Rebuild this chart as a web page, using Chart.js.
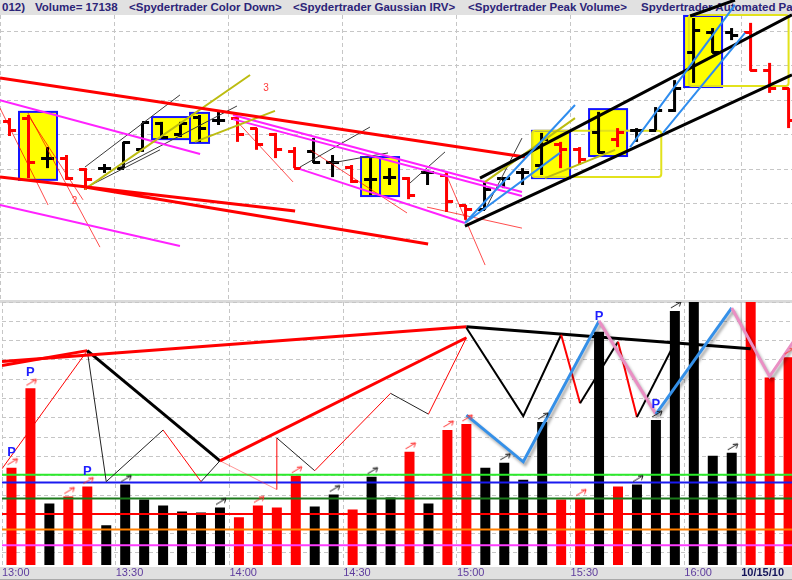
<!DOCTYPE html>
<html>
<head>
<meta charset="utf-8">
<title>ES 5 min - Spydertrader</title>
<script src="https://cdn.jsdelivr.net/npm/chart.js@4.4.0/dist/chart.umd.min.js"></script>
<style>
	html, body { margin: 0; padding: 0; background: #fff; overflow: hidden; }
	#wrap { position: relative; width: 792px; height: 580px; }
	#hdr { position: absolute; left: 0; top: 0; width: 792px; height: 15px; background: #e1e1e1; overflow: hidden;
		font: bold 11.5px "Liberation Sans", Arial, sans-serif; color: #2c2478; }
	#hdr span { position: absolute; top: 1px; white-space: pre; }
	#sep { position: absolute; left: 0; top: 300px; width: 792px; height: 3px; background: #dadada; }
	#band { position: absolute; left: 0; top: 567px; width: 792px; height: 12px; background: #e0e0e0; border-bottom: 1px solid #a9a9a9; }
	canvas { position: absolute; left: 0; }
	#priceCanvas { top: 0; }
	#volCanvas { top: 300px; }
</style>
</head>
<body>
<div id="wrap">
	<div id="hdr">
		<span style="left:2px">012)</span>
		<span style="left:35px">Volume= 17138</span>
		<span style="left:129px">&lt;Spydertrader Color Down&gt;</span>
		<span style="left:293px">&lt;Spydertrader Gaussian IRV&gt;</span>
		<span style="left:468px">&lt;Spydertrader Peak Volume&gt;</span>
		<span style="left:641px">Spydertrader Automated Pa</span>
	</div>
	<div id="sep"></div>
	<div id="band"></div>
	<canvas id="priceCanvas" width="792" height="300" style="width:792px;height:300px"></canvas>
	<canvas id="volCanvas" width="792" height="280" style="width:792px;height:280px"></canvas>
</div>
<script>
// time axis (bar index of each grid line) and its labels
var timeTicks = [-0.5, 5.5, 11.5, 17.5, 23.5, 29.5, 35.5, 38.5];
var timeLabels = ["13:00", "13:30", "14:00", "14:30", "15:00", "15:30", "16:00", "10/15/10"];

// 5 minute bars
var openP = [1169.38, 1169.49, 1168.33, 1168.33, 1167.99, 1168.04, 1168.04, 1168.57, 1169.32, 1169.00,
	1169.52, 1169.43, 1169.49, 1169.20, 1169.00, 1168.51, 1168.51, 1168.19, 1168.07, 1167.70,
	1167.78, 1167.75, 1167.90, 1167.84, 1166.97, 1166.83, 1167.75, 1167.90, 1168.13, 1168.71,
	1168.57, 1169.06, 1168.86, 1169.14, 1169.14, 1169.72, 1171.38, 1171.96, 1171.96, 1171.96,
	1170.86, 1170.36];
var highP = [1169.49, 1169.58, 1168.65, 1168.42, 1168.04, 1168.16, 1168.80, 1169.35, 1169.38, 1169.38,
	1169.58, 1169.67, 1169.52, 1169.20, 1169.06, 1168.65, 1168.91, 1168.42, 1168.13, 1168.33,
	1168.04, 1167.78, 1167.99, 1167.90, 1166.97, 1167.67, 1167.78, 1168.04, 1169.06, 1168.80,
	1168.65, 1169.67, 1169.20, 1169.20, 1169.81, 1170.59, 1172.39, 1172.10, 1172.10, 1172.25,
	1171.09, 1170.36];
var lowP = [1168.97, 1167.75, 1168.04, 1167.70, 1167.41, 1167.90, 1168.04, 1168.51, 1168.94, 1168.94,
	1168.80, 1169.29, 1168.80, 1168.57, 1168.33, 1168.04, 1168.19, 1167.78, 1167.61, 1167.26,
	1167.55, 1167.14, 1167.55, 1166.77, 1166.54, 1166.83, 1167.46, 1167.55, 1167.84, 1168.04,
	1168.13, 1168.48, 1168.65, 1168.80, 1169.14, 1169.67, 1170.51, 1171.38, 1171.75, 1170.86,
	1170.22, 1169.20];
var closeP = [1169.14, 1168.19, 1168.33, 1167.75, 1167.70, 1168.04, 1168.77, 1169.35, 1168.94, 1169.32,
	1169.20, 1169.43, 1169.00, 1168.71, 1168.57, 1168.04, 1168.19, 1168.19, 1167.64, 1167.70,
	1167.78, 1167.26, 1167.90, 1167.06, 1166.83, 1167.41, 1167.75, 1167.90, 1168.86, 1168.57,
	1168.28, 1168.48, 1169.06, 1169.14, 1169.72, 1170.36, 1172.04, 1171.38, 1171.87, 1170.86,
	1170.36, 1169.43];
// Spydertrader Color Down: 1 = down bar
var colorDown = [1, 1, 0, 1, 1, 0, 0, 0, 0, 0, 0, 0, 1, 1, 1, 1, 0, 0, 1, 0, 0, 1, 0, 1, 1, 0, 0, 0, 0, 1,
	1, 0, 1, 0, 0, 0, 0, 0, 0, 1, 1, 1];
var volume = [11413, 15526, 9562, 9922, 10436, 8430, 10539, 9767, 9459, 9150,
	9099, 9356, 8842, 9459, 9356, 11001, 9407, 10025, 9253, 10950,
	9870, 12236, 9562, 13367, 13675, 11413, 11670, 10796, 13778, 9767,
	9819, 18457, 10436, 10539, 13881, 19537, 21200, 12030, 12184, 20900,
	16092, 17138];

// volume bars carrying an arrow mark, and peak volume ("P") bars
var arrowBars = [0, 1, 3, 4, 6, 11, 13, 15, 17, 19, 21, 23, 24, 26, 28, 30, 33, 34, 35, 38, 41];
var peakBars = [0, 1, 4, 31, 34];

// boxes on the price pane: bar range and price range
var boxFrom = [0.5, 7.5, 9.5, 18.5, 19.5, 27.5, 30.5, 35.5];
var boxTo = [2.5, 9.5, 10.5, 19.5, 20.5, 29.5, 32.5, 37.5];
var boxHigh = [1169.67, 1169.52, 1169.64, 1168.36, 1168.36, 1169.12, 1169.75, 1172.45];
var boxLow = [1167.70, 1168.88, 1168.77, 1167.23, 1167.23, 1167.75, 1168.39, 1170.39];
var frameFrom = [27.5, 35.75];
var frameTo = [34.3, 41.0];
var frameHigh = [1169.12, 1172.48];
var frameLow = [1167.78, 1170.42];

// trend lines on the price pane, [bar0, price0, bar1, price1]
var redTrend = [[-0.5, 1170.65, 27.13, 1168.36], [-0.5, 1167.78, 15.03, 1166.80], [3.97, 1167.49, 22.03, 1165.84]];
var magentaTrend = [[-0.5, 1170.01, 10.03, 1168.45], [-0.5, 1166.97, 8.97, 1165.78], [11.76, 1169.58, 26.97, 1167.35],
	[11.76, 1169.46, 26.97, 1167.23], [15.29, 1168.01, 23.97, 1166.45]];
var thinRed = [[-0.5, 1169.78, 2.03, 1166.97], [0.97, 1169.64, 4.76, 1165.75], [0.97, 1169.58, 3.87, 1167.12],
	[11.76, 1169.52, 14.92, 1167.64], [22.92, 1167.93, 25.03, 1165.23], [15.82, 1168.57, 20.92, 1166.74],
	[21.97, 1166.91, 26.97, 1166.30]];
var thinBlack = [[3.97, 1168.07, 8.97, 1170.16], [3.97, 1167.46, 7.92, 1168.57], [5.82, 1168.07, 11.97, 1169.84],
	[15.29, 1168.07, 18.97, 1169.23], [16.97, 1168.19, 19.92, 1168.48], [21.08, 1167.61, 22.92, 1168.51],
	[25.03, 1166.83, 26.97, 1168.91]];
var oliveTrend = [[3.97, 1167.43, 12.66, 1170.74], [9.76, 1168.80, 13.97, 1169.70], [25.03, 1167.64, 29.76, 1169.49],
	[28.18, 1167.75, 31.87, 1168.57]];
var blackChannel = [[24.76, 1167.75, 41.18, 1172.48], [23.97, 1166.36, 41.18, 1170.74], [35.82, 1172.45, 38.18, 1172.91]];
var blueTrend = [[23.97, 1166.45, 29.76, 1169.87], [23.97, 1166.45, 28.97, 1168.48], [32.66, 1168.65, 38.18, 1172.77],
	[34.39, 1169.06, 38.71, 1171.96]];
var noteText = ["2", "3"];
var noteBar = [3.42, 13.5];
var notePrice = [1167.07, 1170.36];

// volume pane: zigzags (bar index / volume) and horizontal levels
var thinZigX = [-0.5, 4, 5, 8, 10, 11, 14, 14, 16, 20, 22, 24];
var thinZigV = [11361, 17480, 10693, 13367, 10693, 11773, 10282, 12955, 11259, 15269, 14190, 18149];
var thickZigX = [-0.5, 4, 11, 24];
var thickZigV = [16709, 17480, 11773, 18149];
var longZigX = [-0.5, 24, 39];
var longZigV = [16915, 18714, 17583];
var midZigX = [24, 27, 29, 30, 32, 33, 35];
var midZigV = [18663, 14087, 18303, 14755, 17943, 14035, 17892];
var irvX = [24, 27, 31, 34, 38, 40, 41.5];
var irvV = [14138, 11721, 19023, 14190, 19691, 16144, 18303];
var levels = [11053, 10642, 9819, 9011, 8209, 7402];

var X_MIN = -0.5, X_MAX = 41.18;
var P_MIN = 1164.217, P_MAX = 1172.478;
var V_MIN = 6374, V_MAX = 20000;

var RED = "#ff0000", BLACK = "#000000";
var FONT = '"Liberation Sans", Arial, sans-serif';
Chart.defaults.font.family = FONT;

// segment colours, one per leg of each zigzag
var thinZigCol = [RED, "#222", "#222", RED, "#222", "rgba(255,60,60,0.55)", RED, "#222", RED, "#222", RED];
var thickZigCol = [RED, BLACK, RED];
var longZigCol = [RED, BLACK];
var midZigCol = [BLACK, BLACK, RED, BLACK, RED, BLACK];
var irvCol = ["#3590e8", "#3590e8", "#ea8fc4", "#3590e8", "#ea8fc4", "#ea8fc4"];
var levelCol = ["#2bea2b", "#1a1af0", "#1c7a1c", "#ff0000", "#ff8000", "#ff3cff"];

function segData(list) {
	var out = [];
	list.forEach(function (s) {
		out.push({ x: s[0], y: s[1] }, { x: s[2], y: s[3] }, { x: s[2], y: null });
	});
	return out;
}

function polyData(xs, ys) {
	return xs.map(function (x, k) { return { x: x, y: ys[k] }; });
}

function lineSet(data, color, width, extra) {
	var ds = {
		type: "line", data: data, borderColor: color, borderWidth: width,
		pointRadius: 0, fill: false, spanGaps: false, tension: 0, order: 1,
		clip: { left: 0, top: 15, right: 0, bottom: 0 }
	};
	return Object.assign(ds, extra || {});
}

function tickImg(color, side) {
	var c = document.createElement("canvas");
	c.width = 15;
	c.height = 3;
	var g = c.getContext("2d");
	g.fillStyle = color;
	if (side === "L") g.fillRect(1, 0, 7, 3);
	else g.fillRect(7, 0, 7, 3);
	return c;
}

function arrowImg(color) {
	var c = document.createElement("canvas");
	c.width = 26;
	c.height = 26;
	var g = c.getContext("2d");
	g.strokeStyle = color;
	g.lineWidth = 1;
	g.beginPath();
	g.moveTo(9, 10);
	g.lineTo(19, 4);
	g.moveTo(19, 4);
	g.lineTo(14, 4.5);
	g.moveTo(19, 4);
	g.lineTo(17.5, 8.5);
	g.stroke();
	return c;
}

var tickL = { red: tickImg(RED, "L"), black: tickImg(BLACK, "L") };
var tickR = { red: tickImg(RED, "R"), black: tickImg(BLACK, "R") };
var arrowRed = arrowImg("#ff3030");
var arrowBlack = arrowImg("#1a1a1a");

function timeAxisTicks(axis) {
	axis.ticks = timeTicks.map(function (v) { return { value: v }; });
}

function zeroWidth(axis) {
	axis.width = 0;
}

var boxPlugin = {
	id: "boxes",
	beforeDatasetsDraw: function (chart) {
		var ctx = chart.ctx, x = chart.scales.x, y = chart.scales.y;
		ctx.save();
		boxFrom.forEach(function (b, k) {
			var x0 = x.getPixelForValue(boxFrom[k]), x1 = x.getPixelForValue(boxTo[k]);
			var y0 = y.getPixelForValue(boxHigh[k]), y1 = y.getPixelForValue(boxLow[k]);
			ctx.fillStyle = "#ffff00";
			ctx.fillRect(x0, y0, x1 - x0, y1 - y0);
			ctx.strokeStyle = "#1414ff";
			ctx.lineWidth = 2;
			ctx.strokeRect(x0, y0, x1 - x0, y1 - y0);
		});
		frameFrom.forEach(function (b, k) {
			var x0 = x.getPixelForValue(frameFrom[k]), x1 = x.getPixelForValue(frameTo[k]);
			var y0 = y.getPixelForValue(frameHigh[k]), y1 = y.getPixelForValue(frameLow[k]);
			ctx.strokeStyle = "#e2e21c";
			ctx.lineWidth = 2;
			ctx.beginPath();
			ctx.roundRect(x0, y0, x1 - x0, y1 - y0, 3);
			ctx.stroke();
		});
		ctx.restore();
	},
	afterDatasetsDraw: function (chart) {
		var ctx = chart.ctx, x = chart.scales.x, y = chart.scales.y;
		ctx.save();
		ctx.font = "10px " + FONT;
		ctx.fillStyle = "#ff3a3a";
		ctx.textAlign = "center";
		ctx.textBaseline = "middle";
		noteText.forEach(function (t, k) {
			ctx.fillText(t, x.getPixelForValue(noteBar[k]), y.getPixelForValue(notePrice[k]));
		});
		ctx.restore();
	}
};

var shadowPlugin = {
	id: "lineShadow",
	beforeDatasetDraw: function (chart, args) {
		if (!chart.data.datasets[args.index].shadow) return;
		var ctx = chart.ctx;
		ctx.save();
		ctx.shadowColor = "rgba(0,0,0,0.35)";
		ctx.shadowBlur = 3;
		ctx.shadowOffsetX = 2;
		ctx.shadowOffsetY = 3;
	},
	afterDatasetDraw: function (chart, args) {
		if (chart.data.datasets[args.index].shadow) chart.ctx.restore();
	}
};

var peakPlugin = {
	id: "peaks",
	afterDatasetsDraw: function (chart) {
		var ctx = chart.ctx, x = chart.scales.x, y = chart.scales.y;
		ctx.save();
		ctx.font = "bold 13px " + FONT;
		ctx.fillStyle = "#1e1eff";
		ctx.textAlign = "center";
		ctx.textBaseline = "alphabetic";
		peakBars.forEach(function (i) {
			ctx.fillText("P", x.getPixelForValue(i), y.getPixelForValue(volume[i]) - 12);
		});
		ctx.restore();
	}
};

var gridCol = "#c6c6c6";

// ---------- price pane ----------
var barCol = colorDown.map(function (d) { return d ? RED : BLACK; });
var priceSets = [
	lineSet(segData(blueTrend), "#2f8def", 2),
	lineSet(segData(blackChannel), BLACK, 3),
	lineSet(segData(redTrend), RED, 3),
	lineSet(segData(oliveTrend), "#bcbc10", 2),
	lineSet(segData(magentaTrend), "#ff22ff", 2),
	lineSet(segData(thinBlack), "#3a3a3a", 1),
	lineSet(segData(thinRed), "rgba(255,0,0,0.7)", 1),
	{
		type: "scatter", order: 2,
		data: openP.map(function (p, i) { return { x: i, y: p }; }),
		pointStyle: colorDown.map(function (d) { return d ? tickL.red : tickL.black; }),
		pointRadius: 3
	},
	{
		type: "scatter", order: 2,
		data: closeP.map(function (p, i) { return { x: i, y: p }; }),
		pointStyle: colorDown.map(function (d) { return d ? tickR.red : tickR.black; }),
		pointRadius: 3
	},
	{
		type: "bar", order: 3,
		data: highP.map(function (h, i) { return { x: i, y: [lowP[i], h] }; }),
		backgroundColor: barCol, barThickness: 3, inflateAmount: 0,
		clip: { left: 0, top: 15, right: 0, bottom: 0 }
	}
];

new Chart(document.getElementById("priceCanvas"), {
	type: "bar",
	data: { datasets: priceSets },
	options: {
		responsive: false, animation: false, devicePixelRatio: 1,
		layout: { autoPadding: false, padding: { top: 15, left: 0, right: 0, bottom: 0 } },
		plugins: { legend: { display: false }, tooltip: { enabled: false } },
		scales: {
			x: {
				type: "linear", min: X_MIN, max: X_MAX, offset: false,
				afterBuildTicks: timeAxisTicks,
				grid: { color: gridCol, drawTicks: false, offset: false },
				border: { display: false, dash: [4, 3] },
				ticks: { display: false }
			},
			y: {
				type: "linear", min: P_MIN, max: P_MAX, beginAtZero: false,
				afterBuildTicks: function (axis) {
					var t = [];
					for (var p = 1165; p <= 1172; p++) t.push({ value: p });
					axis.ticks = t;
				},
				afterFit: zeroWidth,
				grid: { color: gridCol, drawTicks: false },
				border: { display: false, dash: [4, 3] },
				ticks: { display: false }
			}
		}
	},
	plugins: [boxPlugin]
});

// ---------- volume pane ----------
var volSets = [
	{
		type: "scatter", order: 0,
		data: arrowBars.map(function (i) { return { x: i, y: volume[i] }; }),
		pointStyle: arrowBars.map(function (i) { return colorDown[i] ? arrowRed : arrowBlack; }),
		pointRadius: 4
	},
	lineSet(polyData(irvX, irvV), "#3590e8", 3, {
		shadow: true, clip: 0,
		segment: { borderColor: function (c) { return irvCol[c.p0DataIndex]; } }
	}),
	lineSet(polyData(midZigX, midZigV), BLACK, 2, {
		clip: 0, segment: { borderColor: function (c) { return midZigCol[c.p0DataIndex]; } }
	}),
	lineSet(polyData(longZigX, longZigV), RED, 3, {
		clip: 0, segment: { borderColor: function (c) { return longZigCol[c.p0DataIndex]; } }
	}),
	lineSet(polyData(thickZigX, thickZigV), RED, 3, {
		clip: 0, segment: { borderColor: function (c) { return thickZigCol[c.p0DataIndex]; } }
	}),
	lineSet(polyData(thinZigX, thinZigV), RED, 1, {
		clip: 0, segment: { borderColor: function (c) { return thinZigCol[c.p0DataIndex]; } }
	})
];
levels.forEach(function (lv, k) {
	volSets.push(lineSet([{ x: X_MIN, y: lv }, { x: X_MAX, y: lv }], levelCol[k], 2, { clip: 0 }));
});
volSets.push(lineSet([{ x: timeTicks[7], y: V_MIN }, { x: timeTicks[7], y: V_MAX }], "#b4b4b4", 1, { clip: 0, order: 2 }));
volSets.push({
	type: "bar", order: 3,
	data: volume.map(function (v, i) { return { x: i, y: v }; }),
	backgroundColor: barCol, barThickness: 10, inflateAmount: 0
});

new Chart(document.getElementById("volCanvas"), {
	type: "bar",
	data: { datasets: volSets },
	options: {
		responsive: false, animation: false, devicePixelRatio: 1,
		layout: { autoPadding: false, padding: { top: 2, left: 0, right: 0, bottom: 0 } },
		plugins: { legend: { display: false }, tooltip: { enabled: false } },
		scales: {
			x: {
				type: "linear", min: X_MIN, max: X_MAX, offset: false,
				afterBuildTicks: timeAxisTicks,
				grid: {
					drawTicks: false, offset: false,
					color: function (c) {
						return c.tick && c.tick.value === timeTicks[7] ? "rgba(0,0,0,0)" : gridCol;
					}
				},
				border: { display: false, dash: [4, 3] },
				ticks: {
					align: "start", autoSkip: false, maxRotation: 0, padding: 2,
					callback: function (v, idx) { return timeLabels[idx]; },
					color: function (c) { return c.index === timeLabels.length - 1 ? "#14145a" : "#5e3c9e"; },
					font: function (c) {
						return c.index === timeLabels.length - 1
							? { size: 11, weight: "bold", lineHeight: 1 }
							: { size: 11, lineHeight: 1 };
					}
				}
			},
			y: {
				type: "linear", min: V_MIN, max: V_MAX, beginAtZero: false,
				afterBuildTicks: function (axis) {
					var t = [];
					for (var v = 7000; v <= 20000; v += 1000) t.push({ value: v });
					axis.ticks = t;
				},
				afterFit: zeroWidth,
				grid: { color: gridCol, drawTicks: false },
				border: { display: false, dash: [4, 3] },
				ticks: { display: false }
			}
		}
	},
	plugins: [shadowPlugin, peakPlugin]
});
</script>
</body>
</html>
